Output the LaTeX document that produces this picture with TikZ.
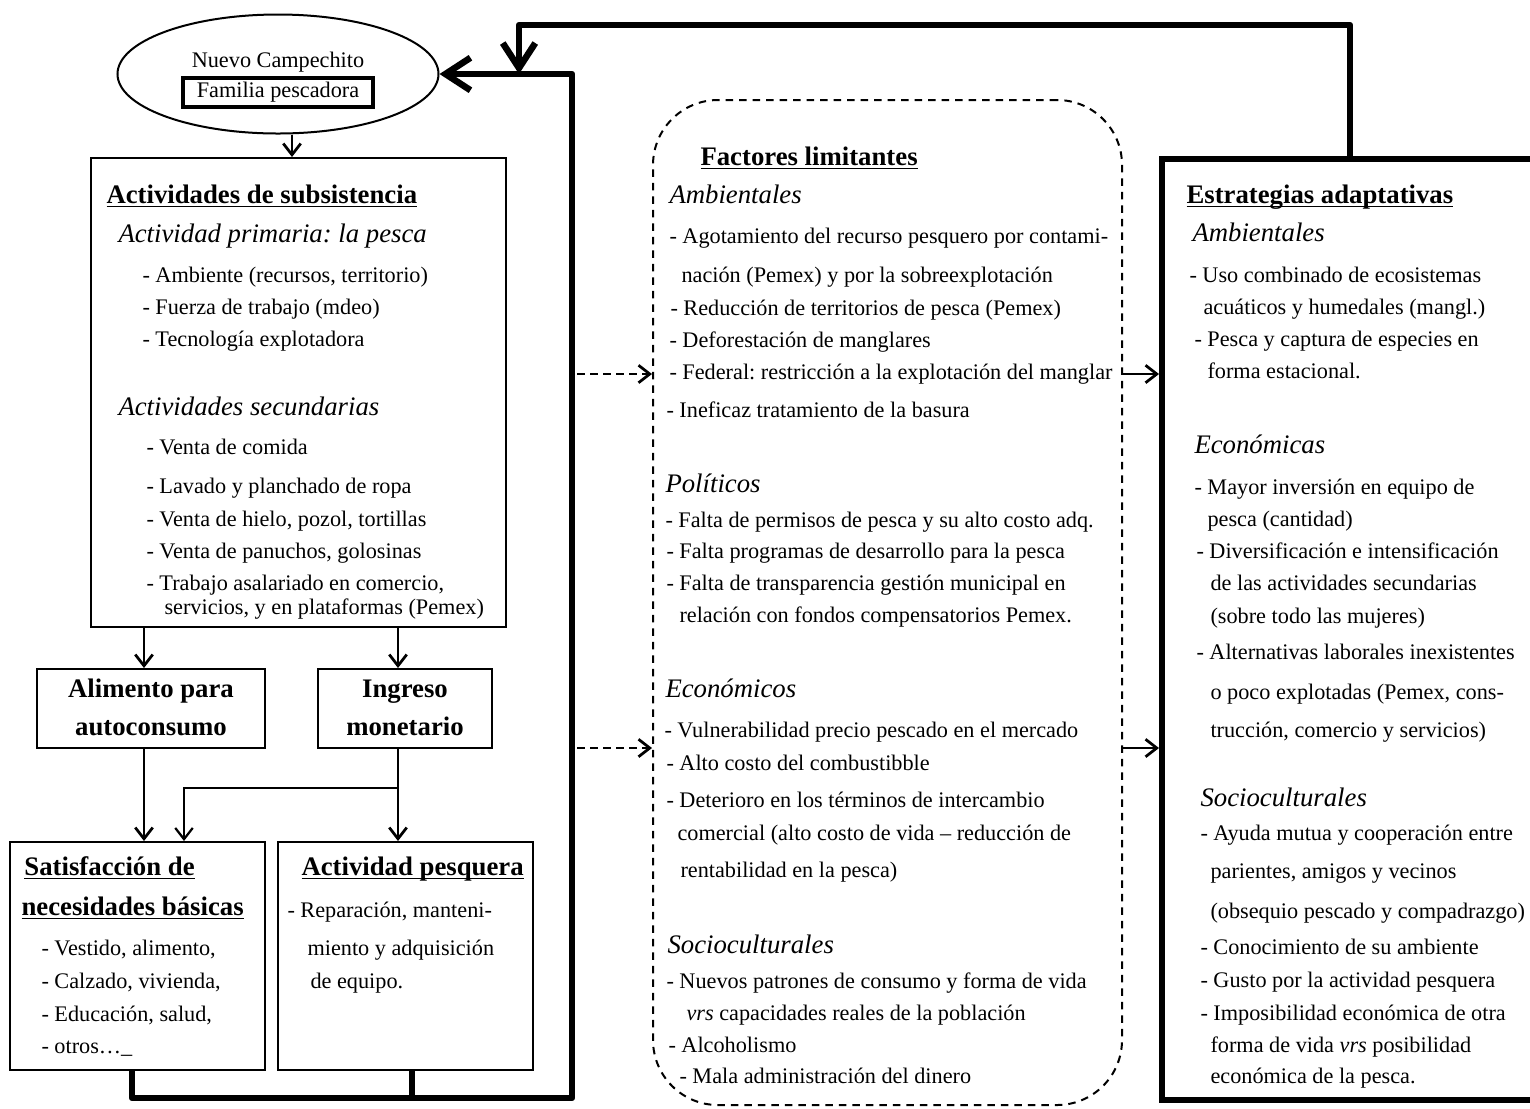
\documentclass[tikz,border=0pt]{standalone}
\usepackage{fontspec}
\setmainfont{Liberation Serif}
\usetikzlibrary{arrows.meta,fit,shapes.geometric}
\newcommand\myul[1]{\setbox0\hbox{#1}\rlap{\rule[-1.4pt]{\wd0}{0.55pt}}\box0}
\frenchspacing
\begin{document}
\frenchspacing
\begin{tikzpicture}[x=0.4pt, y=-0.4pt,
 txt/.style={anchor=mid west, inner sep=0pt, font=\fontsize{8.9pt}{11pt}\selectfont},
 hd/.style={anchor=mid west, inner sep=0pt, font=\fontsize{10.7pt}{13pt}\selectfont\itshape},
 ttl/.style={anchor=mid west, inner sep=0pt, font=\fontsize{10.7pt}{13pt}\selectfont\bfseries},
 ctl/.style={anchor=mid, inner sep=0pt, font=\fontsize{10.7pt}{13pt}\selectfont\bfseries},
 box/.style={draw, line width=0.8pt, inner sep=0pt},
 tarrow/.style={line width=1.1pt, -{Straight Barb[length=4.5pt,width=7pt]}},
 fb/.style={line width=2.6pt, line join=round},
 fbarrow/.style={fb, -{Straight Barb[length=10pt,width=13pt]}},
 dsh/.style={line width=1.1pt, dash pattern=on 3pt off 2.2pt, -{Straight Barb[length=4.5pt,width=7pt]}}
]
\useasboundingbox[fill=white] (0,0) rectangle (1530,1108);

% ---- ellipse
\node[draw, ellipse, line width=0.8pt, minimum width=128.4pt, minimum height=47.6pt, inner sep=0pt] (ell) at (278,74) {};
\node[anchor=mid, inner sep=0pt, font=\fontsize{8.9pt}{11pt}\selectfont] (nc) at (278,62) {Nuevo Campechito};
\node[draw, line width=1.6pt, minimum width=76pt, minimum height=11.6pt, inner sep=0pt, font=\fontsize{8.9pt}{11pt}\selectfont] (fam) at (278,92) {Familia pescadora};

% ---- boxes
\node[box, fit={(91,158) (506,627)}] (act) {};
\node[box, fit={(37,669) (265,748)}] (alim) {};
\node[box, fit={(318,669) (492,748)}] (ingr) {};
\node[box, fit={(10,842) (265,1070)}] (satis) {};
\node[box, fit={(278,842) (533,1070)}] (actp) {};
\node[draw, line width=0.8pt, dash pattern=on 3pt off 2.4pt, rounded corners=26pt, inner sep=0pt, fit={(653,100) (1122,1105)}] (fac) {};
\node[draw, line width=2.4pt, inner sep=0pt, fit={(1162,159) (1580,1100)}] (estr) {};

% ---- Actividades de subsistencia
\node[ttl] (a0) at (106,198) {\myul{Actividades de subsistencia}};
\node[hd] (a1) at (118,237) {Actividad primaria: la pesca};
\node[txt] (a2) at (142,277) {- Ambiente (recursos, territorio)};
\node[txt] (a3) at (142,309) {- Fuerza de trabajo (mdeo)};
\node[txt] (a4) at (142,341) {- Tecnología explotadora};
\node[hd] (a5) at (118,410) {Actividades secundarias};
\node[txt] (a6) at (146,449) {- Venta de comida};
\node[txt] (a7) at (146,488) {- Lavado y planchado de ropa};
\node[txt] (a8) at (146,521) {- Venta de hielo, pozol, tortillas};
\node[txt] (a9) at (146,553) {- Venta de panuchos, golosinas};
\node[txt] (a10) at (146,585) {- Trabajo asalariado en comercio,};
\node[txt] (a11) at (164,609) {servicios, y en plataformas (Pemex)};

% ---- Alimento / Ingreso
\node[ctl] (b1) at (151,692) {Alimento para};
\node[ctl] (b2) at (151,730) {autoconsumo};
\node[ctl] (c1) at (405,692) {Ingreso};
\node[ctl] (c2) at (405,730) {monetario};

% ---- Satisfaccion
\node[ttl] (s1) at (24,870) {\myul{Satisfacción de}};
\node[ttl] (s2) at (21,910) {\myul{necesidades básicas}};
\node[txt] (s3) at (41,950) {- Vestido, alimento,};
\node[txt] (s4) at (41,983) {- Calzado, vivienda,};
\node[txt] (s5) at (41,1016) {- Educación, salud,};
\node[txt] (s6) at (41,1048) {- otros…\_};

% ---- Actividad pesquera
\node[ttl] (p1) at (301,870) {\myul{Actividad pesquera}};
\node[txt] (p2) at (287,912) {- Reparación, manteni-};
\node[txt] (p3) at (307,950) {miento y adquisición};
\node[txt] (p4) at (310,983) {de equipo.};

% ---- Factores limitantes
\node[ttl] (f0) at (700,160) {\myul{Factores limitantes}};
\node[hd] (f1) at (669,198) {Ambientales};
\node[txt] (f2) at (669,238) {- Agotamiento del recurso pesquero por contami-};
\node[txt] (f3) at (681,277) {nación (Pemex) y por la sobreexplotación};
\node[txt] (f4) at (670,310) {- Reducción de territorios de pesca (Pemex)};
\node[txt] (f5) at (669,342) {- Deforestación de manglares};
\node[txt] (f6) at (669,374) {- Federal: restricción a la explotación del manglar};
\node[txt] (f7) at (666,412) {- Ineficaz tratamiento de la basura};
\node[hd] (f8) at (665,487) {Políticos};
\node[txt] (f9) at (665,522) {- Falta de permisos de pesca y su alto costo adq.};
\node[txt] (f10) at (666,553) {- Falta programas de desarrollo para la pesca};
\node[txt] (f11) at (666,585) {- Falta de transparencia gestión municipal en};
\node[txt] (f12) at (679,617) {relación con fondos compensatorios Pemex.};
\node[hd] (f13) at (665,692) {Económicos};
\node[txt] (f14) at (664,732) {- Vulnerabilidad precio pescado en el mercado};
\node[txt] (f15) at (666,765) {- Alto costo del combustibble};
\node[txt] (f16) at (666,802) {- Deterioro en los términos de intercambio};
\node[txt] (f17) at (677,835) {comercial (alto costo de vida – reducción de};
\node[txt] (f18) at (680,872) {rentabilidad en la pesca)};
\node[hd] (f19) at (667,948) {Socioculturales};
\node[txt] (f20) at (666,983) {- Nuevos patrones de consumo y forma de vida};
\node[txt] (f21) at (686,1015) {\textit{vrs} capacidades reales de la población};
\node[txt] (f22) at (668,1047) {- Alcoholismo};
\node[txt] (f23) at (679,1078) {- Mala administración del dinero};

% ---- Estrategias adaptativas
\node[ttl] (e0) at (1186,198) {\myul{Estrategias adaptativas}};
\node[hd] (e1) at (1192,236) {Ambientales};
\node[txt] (e2) at (1189,277) {- Uso combinado de ecosistemas};
\node[txt] (e3) at (1203,309) {acuáticos y humedales (mangl.)};
\node[txt] (e4) at (1194,341) {- Pesca y captura de especies en};
\node[txt] (e5) at (1207,373) {forma estacional.};
\node[hd] (e6) at (1194,448) {Económicas};
\node[txt] (e7) at (1194,489) {- Mayor inversión en equipo de};
\node[txt] (e8) at (1207,521) {pesca (cantidad)};
\node[txt] (e9) at (1196,553) {- Diversificación e intensificación};
\node[txt] (e10) at (1210,585) {de las actividades secundarias};
\node[txt] (e11) at (1210,618) {(sobre todo las mujeres)};
\node[txt] (e12) at (1196,654) {- Alternativas laborales inexistentes};
\node[txt] (e13) at (1210,694) {o poco explotadas (Pemex, cons-};
\node[txt] (e14) at (1210,732) {trucción, comercio y servicios)};
\node[hd] (e15) at (1200,801) {Socioculturales};
\node[txt] (e16) at (1200,835) {- Ayuda mutua y cooperación entre};
\node[txt] (e17) at (1210,873) {parientes, amigos y vecinos};
\node[txt] (e18) at (1210,913) {(obsequio pescado y compadrazgo)};
\node[txt] (e19) at (1200,949) {- Conocimiento de su ambiente};
\node[txt] (e20) at (1200,982) {- Gusto por la actividad pesquera};
\node[txt] (e21) at (1200,1015) {- Imposibilidad económica de otra};
\node[txt] (e22) at (1210,1047) {forma de vida \textit{vrs} posibilidad};
\node[txt] (e23) at (1210,1078) {económica de la pesca.};

% ---- thin connectors
\coordinate (xa) at (292,0);
\coordinate (xl) at (144,0);
\coordinate (xr) at (398,0);
\coordinate (xm) at (184,0);
\coordinate (br) at (398,788);
\draw[tarrow] (ell.south -| xa) -- (act.north -| xa);
\draw[tarrow] (act.south -| xl) -- (alim.north -| xl);
\draw[tarrow] (act.south -| xr) -- (ingr.north -| xr);
\draw[tarrow] (alim.south -| xl) -- (satis.north -| xl);
\draw[tarrow] (ingr.south -| xr) -- (actp.north -| xr);
\draw[tarrow, line width=0.9pt] (br) -| (satis.north -| xm);

% ---- feedback loops
\coordinate (fl) at (132,1098);
\coordinate (fm) at (412,1098);
\coordinate (fr) at (572,1098);
\draw[fbarrow] (satis.south -| fl) -- (fl) -- (fr) |- (ell.east);
\draw[fb] (actp.south -| fm) -- (fm);
\coordinate (tr) at (1350,25);
\coordinate (tl) at (519,25);
\coordinate (tj) at (519,74);
\draw[fbarrow] (estr.north -| tr) -- (tr) -- (tl) -- (tj);

% ---- dashed & right arrows
\coordinate (d1) at (577,374);
\coordinate (d2) at (577,748);
\draw[dsh] (d1) -- (d1 -| fac.west);
\draw[dsh] (d2) -- (d2 -| fac.west);
\draw[tarrow] (d1 -| fac.east) -- (d1 -| estr.west);
\draw[tarrow] (d2 -| fac.east) -- (d2 -| estr.west);
\end{tikzpicture}
\end{document}
